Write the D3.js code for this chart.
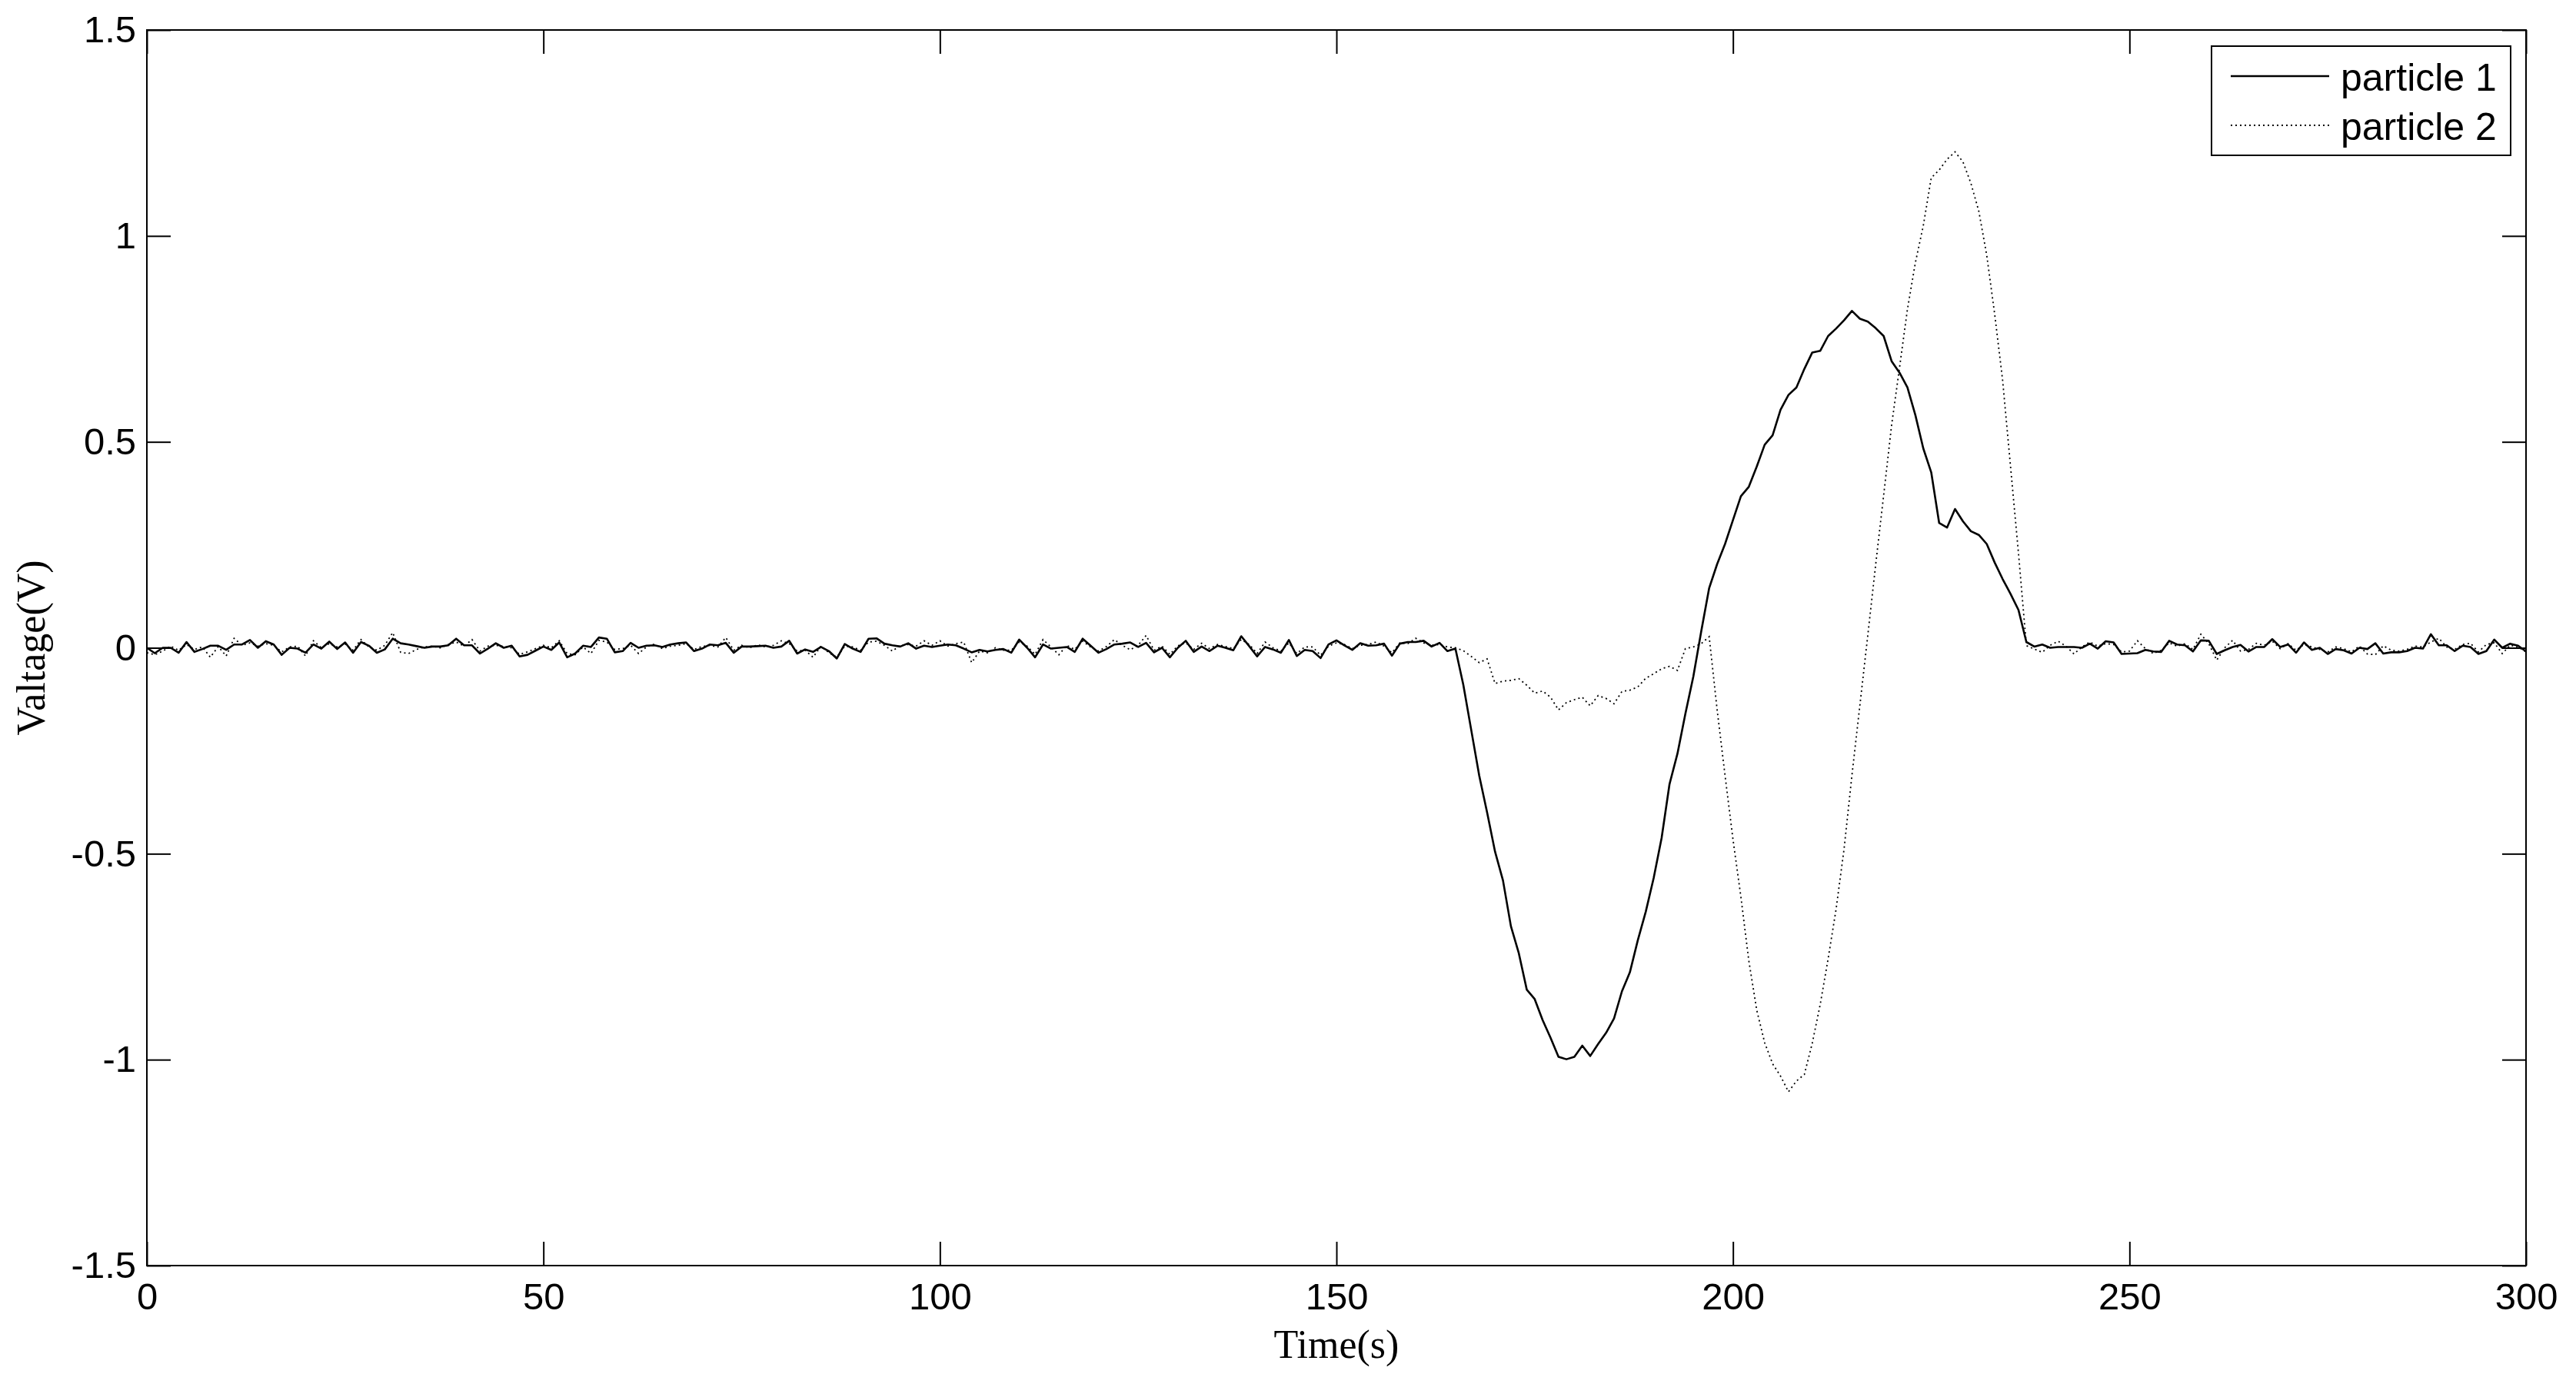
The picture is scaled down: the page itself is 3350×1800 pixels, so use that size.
<!doctype html>
<html>
<head>
<meta charset="utf-8">
<script src="https://d3js.org/d3.v7.min.js"></script>
<style>
  body { margin: 0; background: #fff; }
  .tick line { stroke: #000; stroke-width: 2; }
  .tick text { font-family: "Liberation Sans", Arial, sans-serif; font-size: 49px; fill: #000; }
  .lbl { font-family: "Liberation Serif", "Times New Roman", serif; font-size: 52px; fill: #000; }
  .legtext { font-family: "Liberation Sans", Arial, sans-serif; font-size: 50px; fill: #000; }
</style>
</head>
<body>
<script>
// sample times (s), one reading per second
var time = d3.range(0, 301);

// particle 1 (solid), t = 0..300
var particle1 = [
  0.000, -0.013, 0.000, 0.000, -0.012, 0.014, -0.010, -0.003, 0.005, 0.005,
  -0.005, 0.008, 0.008, 0.019, 0.000, 0.016, 0.008, -0.017, 0.000, -0.002,
  -0.012, 0.008, -0.002, 0.015, -0.003, 0.013, -0.012, 0.014, 0.005, -0.012,
  -0.004, 0.022, 0.011, 0.008, 0.004, 0.000, 0.003, 0.003, 0.006, 0.022,
  0.006, 0.006, -0.014, -0.002, 0.011, 0.000, 0.005, -0.021, -0.017, -0.007,
  0.003, -0.005, 0.013, -0.023, -0.014, 0.005, 0.002, 0.025, 0.022, -0.011,
  -0.008, 0.012, 0.000, 0.005, 0.006, 0.002, 0.008, 0.011, 0.013, -0.008,
  -0.002, 0.008, 0.006, 0.012, -0.012, 0.003, 0.003, 0.004, 0.005, 0.000,
  0.003, 0.017, -0.014, -0.004, -0.010, 0.002, -0.008, -0.026, 0.009, -0.002,
  -0.010, 0.022, 0.023, 0.010, 0.006, 0.003, 0.011, -0.002, 0.005, 0.002,
  0.005, 0.008, 0.006, -0.002, -0.011, -0.005, -0.009, -0.005, -0.003, -0.012,
  0.020, 0.000, -0.023, 0.008, -0.002, 0.000, 0.002, -0.010, 0.022, 0.005,
  -0.012, -0.003, 0.008, 0.010, 0.013, 0.002, 0.012, -0.011, 0.000, -0.023,
  0.000, 0.017, -0.010, 0.003, -0.008, 0.005, 0.000, -0.006, 0.028, 0.004,
  -0.021, 0.002, -0.004, -0.012, 0.019, -0.020, -0.005, -0.008, -0.025, 0.008,
  0.018, 0.006, -0.005, 0.011, 0.005, 0.006, 0.010, -0.019, 0.010, 0.014,
  0.014, 0.017, 0.003, 0.012, -0.008, -0.002, -0.090, -0.200, -0.310, -0.400,
  -0.495, -0.565, -0.676, -0.742, -0.830, -0.853, -0.904, -0.947, -0.993, -0.999,
  -0.993, -0.966, -0.991, -0.962, -0.935, -0.900, -0.834, -0.788, -0.710, -0.641,
  -0.559, -0.462, -0.331, -0.257, -0.160, -0.070, 0.040, 0.145, 0.203, 0.252,
  0.310, 0.368, 0.391, 0.440, 0.493, 0.516, 0.578, 0.614, 0.632, 0.677,
  0.717, 0.721, 0.757, 0.775, 0.795, 0.818, 0.799, 0.792, 0.776, 0.757,
  0.696, 0.668, 0.632, 0.565, 0.484, 0.426, 0.303, 0.292, 0.337, 0.307,
  0.283, 0.274, 0.252, 0.207, 0.167, 0.131, 0.092, 0.014, 0.003, 0.008,
  0.000, 0.002, 0.002, 0.002, 0.000, 0.010, -0.002, 0.016, 0.013, -0.015,
  -0.014, -0.013, -0.005, -0.009, -0.010, 0.017, 0.008, 0.006, -0.009, 0.018,
  0.017, -0.015, -0.006, 0.002, 0.007, -0.009, 0.002, 0.002, 0.021, 0.002,
  0.008, -0.012, 0.013, -0.005, 0.000, -0.015, -0.003, -0.006, -0.014, 0.000,
  -0.003, 0.011, -0.014, -0.011, -0.011, -0.008, 0.000, -0.002, 0.033, 0.006,
  0.006, -0.008, 0.005, 0.002, -0.015, -0.008, 0.020, 0.000, 0.010, 0.005,
  -0.009
];

// particle 2 (dotted), t = 0..300
var particle2 = [
  -0.012, -0.017, -0.008, 0.004, -0.006, 0.008, -0.004, 0.002, -0.023, 0.003,
  -0.020, 0.023, 0.006, 0.012, 0.004, 0.010, 0.006, -0.010, 0.002, 0.004,
  -0.020, 0.017, 0.000, 0.010, 0.002, 0.009, -0.006, 0.020, 0.002, -0.006,
  0.006, 0.037, -0.011, -0.014, -0.004, 0.002, 0.004, 0.000, 0.008, 0.014,
  0.004, 0.020, -0.008, 0.004, 0.006, 0.003, 0.000, -0.016, -0.010, -0.002,
  0.006, 0.000, 0.017, -0.014, -0.017, 0.002, -0.014, 0.018, 0.014, -0.004,
  -0.002, 0.006, -0.014, 0.002, 0.009, -0.002, 0.004, 0.006, 0.010, -0.004,
  0.003, 0.006, 0.002, 0.025, -0.006, 0.006, 0.000, 0.007, 0.002, 0.006,
  0.017, 0.010, -0.008, -0.006, -0.023, 0.004, -0.012, -0.023, 0.004, 0.002,
  -0.006, 0.014, 0.016, 0.006, -0.008, 0.006, 0.008, 0.004, 0.017, 0.006,
  0.017, 0.004, 0.010, 0.014, -0.036, -0.008, -0.012, 0.000, -0.006, -0.006,
  0.014, 0.004, -0.016, 0.020, 0.002, -0.017, 0.006, -0.004, 0.016, 0.002,
  -0.008, 0.003, 0.020, 0.006, -0.005, 0.006, 0.030, -0.006, 0.004, -0.016,
  0.005, 0.012, -0.004, 0.011, -0.002, 0.008, 0.003, -0.002, 0.020, 0.008,
  -0.014, 0.014, 0.000, -0.008, 0.012, -0.014, 0.002, 0.002, -0.018, 0.004,
  0.012, 0.008, -0.002, 0.006, 0.008, 0.014, 0.004, -0.012, 0.012, 0.010,
  0.023, 0.012, 0.006, 0.008, 0.002, 0.000, -0.007, -0.021, -0.036, -0.027,
  -0.087, -0.081, -0.079, -0.075, -0.091, -0.110, -0.105, -0.120, -0.151, -0.133,
  -0.126, -0.120, -0.141, -0.116, -0.123, -0.136, -0.106, -0.103, -0.095, -0.074,
  -0.063, -0.051, -0.045, -0.055, -0.002, 0.002, 0.010, 0.027, -0.150, -0.310,
  -0.465, -0.605, -0.760, -0.880, -0.959, -1.010, -1.040, -1.078, -1.052, -1.036,
  -0.960, -0.866, -0.755, -0.635, -0.490, -0.310, -0.140, 0.030, 0.203, 0.370,
  0.540, 0.680, 0.822, 0.935, 1.025, 1.141, 1.160, 1.186, 1.204, 1.180,
  1.128, 1.060, 0.953, 0.810, 0.650, 0.440, 0.230, 0.005, -0.003, -0.011,
  0.006, 0.016, 0.004, -0.015, 0.002, 0.014, 0.004, 0.010, 0.008, -0.010,
  -0.008, 0.017, -0.002, -0.014, -0.006, 0.012, 0.004, 0.010, -0.004, 0.033,
  0.010, -0.030, 0.000, 0.018, -0.008, -0.004, 0.011, 0.006, 0.016, -0.002,
  0.010, -0.006, 0.008, 0.002, -0.004, -0.010, 0.002, -0.002, -0.010, 0.004,
  -0.015, -0.017, 0.005, -0.006, -0.008, -0.004, 0.004, 0.002, 0.014, 0.023,
  0.002, -0.004, 0.008, 0.011, -0.010, 0.008, 0.012, -0.014, 0.006, 0.002,
  -0.010
];

var seriesNames = ["particle 1", "particle 2"];
var xTicks = [0, 50, 100, 150, 200, 250, 300];
var yTicks = [-1.5, -1, -0.5, 0, 0.5, 1, 1.5];
var yTickLabels = ["-1.5", "-1", "-0.5", "0", "0.5", "1", "1.5"];
var xLabel = "Time(s)";
var yLabel = "Valtage(V)";

var W = 3350, H = 1800;
var margin = {left: 191, top: 39, right: 65, bottom: 154};
var width = W - margin.left - margin.right;
var height = H - margin.top - margin.bottom;
var tick = 31;

var svg = d3.select("body").append("svg").attr("width", W).attr("height", H);
var g = svg.append("g").attr("transform", "translate(" + margin.left + "," + margin.top + ")");

var x = d3.scaleLinear().domain([0, 300]).range([0, width]);
var y = d3.scaleLinear().domain([-1.5, 1.5]).range([height, 0]);

// axes with inward ticks on all four sides
g.append("g").attr("transform", "translate(0," + height + ")")
  .call(d3.axisBottom(x).tickValues(xTicks).tickFormat(d3.format("d")).tickSizeInner(-tick).tickSizeOuter(0).tickPadding(22));
g.append("g")
  .call(d3.axisLeft(y).tickValues(yTicks).tickFormat(function(d, i) { return yTickLabels[i]; }).tickSizeInner(-tick).tickSizeOuter(0).tickPadding(14));
g.append("g").call(d3.axisTop(x).tickValues(xTicks).tickFormat("").tickSizeInner(-tick).tickSizeOuter(0));
g.append("g").attr("transform", "translate(" + width + ",0)")
  .call(d3.axisRight(y).tickValues(yTicks).tickFormat("").tickSizeInner(-tick).tickSizeOuter(0));
g.selectAll(".domain").remove();
g.selectAll(".tick text").attr("font-family", null).attr("font-size", null);

var data1 = time.map(function(t, i) { return [t, particle1[i]]; });
var data2 = time.map(function(t, i) { return [t, particle2[i]]; });

var line = d3.line().x(function(d) { return x(d[0]); }).y(function(d) { return y(d[1]); });

g.append("path").datum(data2).attr("d", line)
  .attr("fill", "none").attr("stroke", "#000").attr("stroke-width", 1.8)
  .attr("stroke-dasharray", "2,4");
g.append("path").datum(data1).attr("d", line)
  .attr("fill", "none").attr("stroke", "#000").attr("stroke-width", 2.6)
  .attr("stroke-linejoin", "round");

// plot box
g.append("rect").attr("width", width).attr("height", height)
  .attr("fill", "none").attr("stroke", "#000").attr("stroke-width", 2);

// axis labels
svg.append("text").attr("class", "lbl").attr("text-anchor", "middle")
  .attr("x", margin.left + width / 2).attr("y", 1766).text(xLabel);
svg.append("text").attr("class", "lbl").attr("text-anchor", "middle")
  .attr("transform", "translate(58," + (margin.top + height / 2) + ") rotate(-90)").text(yLabel);

// legend
var leg = svg.append("g").attr("transform", "translate(2876,60)");
leg.append("rect").attr("width", 389).attr("height", 142)
  .attr("fill", "#fff").attr("stroke", "#000").attr("stroke-width", 2);
var rows = leg.selectAll(".row").data(seriesNames).enter().append("g")
  .attr("transform", function(d, i) { return "translate(0," + (39 + i * 64) + ")"; });
rows.append("line").attr("x1", 25).attr("x2", 153).attr("y1", 0).attr("y2", 0)
  .attr("stroke", "#000")
  .attr("stroke-width", function(d, i) { return i === 0 ? 2.6 : 1.8; })
  .attr("stroke-dasharray", function(d, i) { return i === 0 ? null : "2,4"; });
rows.append("text").attr("class", "legtext").attr("x", 168).attr("y", 19).text(function(d) { return d; });
</script>
</body>
</html>
